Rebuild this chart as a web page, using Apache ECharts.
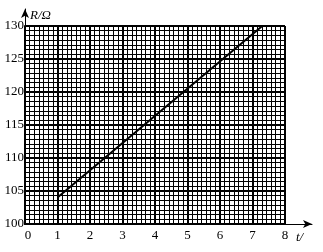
<!DOCTYPE html>
<html>
<head>
<meta charset="utf-8">
<script src="https://cdn.jsdelivr.net/npm/echarts@6/dist/echarts.min.js"></script>
<style>
html,body{margin:0;padding:0;background:#fff;}
#main{width:323px;height:252px;}
</style>
</head>
<body>
<div id="main"></div>
<script>
// Data
var tValues = [1, 7.3];
var rValues = [104, 130];
var xTicks = [0, 1, 2, 3, 4, 5, 6, 7, 8];
var yTicks = [100, 105, 110, 115, 120, 125, 130];
var xName = 't/';
var yName = 'R/Ω';

var seriesData = tValues.map(function (t, i) { return [t, rValues[i]]; });

var FONT = '"Liberation Serif", "Times New Roman", serif';
var chart = echarts.init(document.getElementById('main'), null, {renderer: 'canvas'});

chart.setOption({
  backgroundColor: '#fff',
  animation: false,
  grid: [
    {left: 25, right: 38, top: 26, bottom: 28},
    {left: 25, right: 11, top: 9, bottom: 28}
  ],
  xAxis: [
    {
      type: 'value', gridIndex: 0,
      min: xTicks[0], max: xTicks[xTicks.length - 1], interval: 1,
      axisLine: {show: true, lineStyle: {color: '#000', width: 2}},
      axisTick: {show: false},
      minorTick: {show: false, splitNumber: 7},
      axisLabel: {color: '#000', fontFamily: FONT, fontSize: 13, margin: 5,
        formatter: function (v) { return v === 0 ? '{z|0}' : String(v); },
        rich: {z: {fontFamily: FONT, fontSize: 13, color: '#000', padding: [0, 0, 0, 6]}}},
      splitLine: {show: true, lineStyle: {color: '#000', width: 2}},
      minorSplitLine: {show: true, lineStyle: {color: '#000', width: 1}}
    },
    {
      type: 'value', gridIndex: 1, min: 0, max: 1,
      axisLine: {show: true, symbol: ['none', 'arrow'], symbolSize: [6, 9],
        lineStyle: {color: '#000', width: 1}},
      axisTick: {show: false}, axisLabel: {show: false}, splitLine: {show: false}
    }
  ],
  yAxis: [
    {
      type: 'value', gridIndex: 0,
      min: yTicks[0], max: yTicks[yTicks.length - 1], interval: 5,
      axisLine: {show: true, lineStyle: {color: '#000', width: 2}},
      axisTick: {show: false},
      minorTick: {show: false, splitNumber: 7},
      axisLabel: {color: '#000', fontFamily: FONT, fontSize: 13, margin: 1},
      splitLine: {show: true, lineStyle: {color: '#000', width: 2}},
      minorSplitLine: {show: true, lineStyle: {color: '#000', width: 1}}
    },
    {
      type: 'value', gridIndex: 1, min: 0, max: 1,
      axisLine: {show: true, symbol: ['none', 'arrow'], symbolSize: [6, 9],
        lineStyle: {color: '#000', width: 1}},
      axisTick: {show: false}, axisLabel: {show: false}, splitLine: {show: false}
    }
  ],
  graphic: [
    {type: 'text', left: 30, top: 9,
      style: {text: yName, fill: '#000', font: 'italic 13px ' + FONT}},
    {type: 'text', left: 296, top: 231,
      style: {text: xName, fill: '#000', font: 'italic 13px ' + FONT}}
  ],
  series: [
    {
      type: 'line', xAxisIndex: 0, yAxisIndex: 0,
      data: seriesData, symbol: 'none',
      lineStyle: {color: '#000', width: 2}
    }
  ]
});
</script>
</body>
</html>
